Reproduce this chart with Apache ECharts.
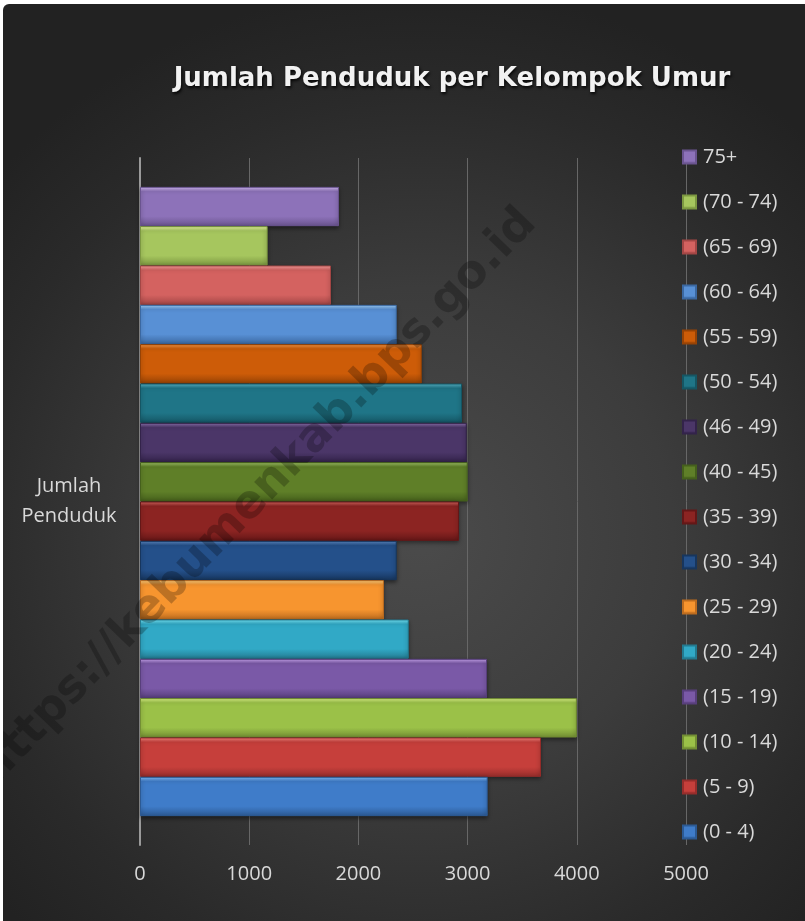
<!DOCTYPE html>
<html>
<head>
<meta charset="utf-8">
<script src="https://cdn.jsdelivr.net/npm/echarts@6/dist/echarts.min.js"></script>
<style>
html,body{margin:0;padding:0;background:#ffffff;width:805px;height:921px;overflow:hidden;}
#wrap{position:absolute;left:3px;top:4px;width:802px;height:917px;border-radius:6px 0 0 0;overflow:hidden;
background:radial-gradient(ellipse 70% 60% at 52% 58%, #4b4b4b 0%, #3c3c3c 45%, #2a2a2a 80%, #222222 100%);}
#chart{position:absolute;left:-3px;top:-4px;width:805px;height:921px;}
</style>
</head>
<body>
<div id="wrap"><div id="chart"></div></div>
<script>
var titleText = 'Jumlah Penduduk per Kelompok Umur';
var categories = ['Jumlah Penduduk'];
var seriesNames = ['(0 - 4)','(5 - 9)','(10 - 14)','(15 - 19)','(20 - 24)','(25 - 29)','(30 - 34)','(35 - 39)','(40 - 45)','(46 - 49)','(50 - 54)','(55 - 59)','(60 - 64)','(65 - 69)','(70 - 74)','75+'];
var seriesValues = [3184, 3672, 4000, 3178, 2461, 2234, 2351, 2921, 3001, 2992, 2949, 2580, 2351, 1749, 1169, 1822];
var xTicks = [0, 1000, 2000, 3000, 4000, 5000];
var watermark = 'https://kebumenkab.bps.go.id';

// [top highlight, mid, bottom]
var palette = [
  ['#86c2ff','#3f7cc9','#2c5a94'],
  ['#ff8a85','#c63f3b','#962d2b'],
  ['#e6ff8c','#9bc148','#738f34'],
  ['#cfaaf7','#7a59a7','#583f7c'],
  ['#7aeeff','#31a9c6','#237a90'],
  ['#ffd383','#f7952f','#bd6c1f'],
  ['#5f8cc7','#24508a','#17365e'],
  ['#dc6a64','#8c2422','#641717'],
  ['#a8cc6c','#5f7f28','#45601c'],
  ['#9075b2','#4b3668','#33234a'],
  ['#5cbacd','#1f7587','#155664'],
  ['#ff9d4a','#cd5c08','#974305'],
  ['#a3d4ff','#5890d5','#3b68a1'],
  ['#ffa4a2','#d46260','#a34645'],
  ['#f1ffa6','#a6c65e','#7c9841'],
  ['#d9c0fa','#8d72b9','#6a548f']
];

function grad(c){
  return new echarts.graphic.LinearGradient(0,0,0,1,[
    {offset:0,color:c[0]},{offset:0.12,color:c[1]},{offset:0.75,color:c[1]},{offset:1,color:c[2]}
  ]);
}

var FONT = '"Open Sans", "Noto Sans", sans-serif';
var series = [];
for (var i = seriesNames.length - 1; i >= 0; i--) {
  series.push({
    name: seriesNames[i],
    type: 'bar',
    barGap: '0%',
    barCategoryGap: '8.4%',
    data: [seriesValues[i]],
    itemStyle: {
      color: grad(palette[i]),
      borderColor: palette[i][2],
      borderWidth: 1,
      shadowColor: 'rgba(0,0,0,0.45)',
      shadowBlur: 4,
      shadowOffsetY: 2
    }
  });
}

var chart = echarts.init(document.getElementById('chart'), null, {renderer:'canvas'});
chart.setOption({
  backgroundColor: 'transparent',
  animation: false,
  title: {
    text: titleText,
    left: 447, top: 61, textAlign: 'center',
    textStyle: {
      color: '#f2f2f2', fontSize: 26, fontWeight: 'bold', fontFamily: '"DejaVu Sans", sans-serif',
      textShadowColor: 'rgba(0,0,0,0.85)', textShadowBlur: 3, textShadowOffsetX: 1, textShadowOffsetY: 2
    }
  },
  legend: {
    orient: 'vertical',
    left: 677, top: 142,
    itemWidth: 13, itemHeight: 13, itemGap: 25,
    icon: 'rect',
    data: seriesNames.slice().reverse(),
    textStyle: {color:'#d9d9d9', fontSize: 20, fontFamily: FONT, padding:[0,0,0,2], lineHeight: 20}
  },
  grid: {left: 140, right: 119, top: 158, bottom: 76, containLabel: false},
  xAxis: {
    type: 'value', min: xTicks[0], max: xTicks[xTicks.length-1], interval: 1000,
    axisLine: {show:false}, axisTick:{show:false},
    splitLine: {lineStyle:{color:'#676767', width:1}},
    axisLabel: {color:'#d9d9d9', fontSize:20, fontFamily: FONT, margin: 19,
      formatter: function(v){ return String(v); }}
  },
  yAxis: {
    type: 'category', data: categories,
    axisLine: {show:true, lineStyle:{color:'#9a9a9a', width:2}},
    axisTick: {show:false},
    axisLabel: {color:'#d9d9d9', fontSize:20, fontFamily: FONT, align:'center', margin:71, lineHeight:30,
      formatter: function(v){ return v.replace(' ', '\n'); }}
  },
  graphic: [{
    type: 'text',
    x: 258, y: 497,
    rotation: 46 * Math.PI / 180,
    z: 100,
    style: {
      text: watermark, align: 'center', verticalAlign: 'middle',
      fill: 'rgba(0,0,0,0.24)', font: 'bold 46px "DejaVu Sans", sans-serif'
    }
  }],
  series: series
});
</script>
</body>
</html>
